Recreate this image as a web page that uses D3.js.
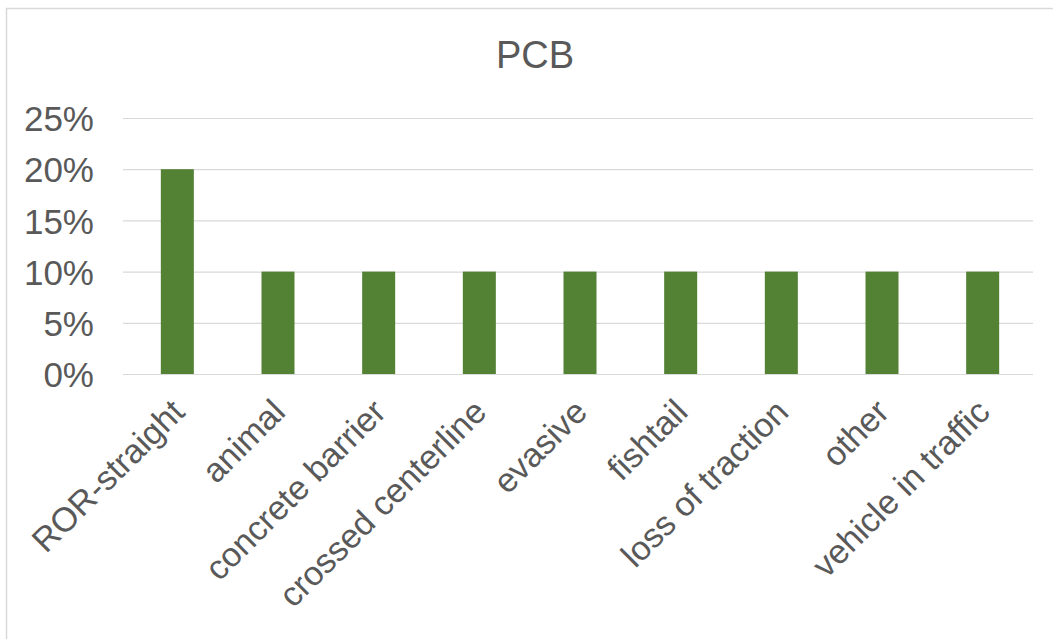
<!DOCTYPE html>
<html><head><meta charset="utf-8">
<script src="https://cdn.jsdelivr.net/npm/d3@7"></script>
<style>
html,body{margin:0;padding:0;background:#fff;}
svg{display:block;font-family:"Liberation Sans",Arial,sans-serif;}
</style></head>
<body>
<svg id="chart" width="1053" height="639"></svg>
<script>
const categories = ["ROR-straight","animal","concrete barrier","crossed centerline","evasive","fishtail","loss of traction","other","vehicle in traffic"];
const values = [0.20,0.10,0.10,0.10,0.10,0.10,0.10,0.10,0.10];
const yTicks = [0,0.05,0.10,0.15,0.20,0.25];
const title = "PCB";

const svg = d3.select("#chart");
const W = 1053, H = 639;
const textColor = "#595959";

// outer border
svg.append("path").attr("d", `M6.5,${H} V8.5 H${W}`).attr("fill","none").attr("stroke","#d9d9d9").attr("stroke-width",1.5);

const x = d3.scaleBand().domain(categories).range([127,1033]).paddingInner(0.672).paddingOuter(0.336);
const y = d3.scaleLinear().domain([0,0.25]).range([374,118]);

// gridlines
const grid = d3.axisLeft(y).tickValues(yTicks).tickSize(-(1033-123)).tickFormat("");
svg.append("g").attr("transform","translate(123,0)").call(grid)
  .call(g=>g.select(".domain").remove())
  .call(g=>g.selectAll("line").attr("stroke","#d9d9d9").attr("stroke-width",1.2));

// y labels
const yAxis = d3.axisLeft(y).tickValues(yTicks).tickSize(0).tickPadding(0).tickFormat(d3.format(".0%"));
svg.append("g").attr("transform","translate(94,0)").call(yAxis)
  .call(g=>g.select(".domain").remove())
  .call(g=>g.selectAll("text").attr("fill",textColor).attr("font-size",35).attr("font-family","Liberation Sans, Arial, sans-serif").attr("dy","0.36em"));

// bars
svg.append("g").selectAll("rect").data(values).join("rect")
  .attr("x",(d,i)=>x(categories[i]))
  .attr("width",x.bandwidth())
  .attr("y",d=>y(d))
  .attr("height",d=>y(0)-y(d))
  .attr("fill","#548235");

// x labels
const xAxis = d3.axisBottom(x).tickSize(0).tickPadding(0);
svg.append("g").attr("transform","translate(0,374)").call(xAxis)
  .call(g=>g.select(".domain").remove())
  .call(g=>g.selectAll("text")
    .attr("fill",textColor).attr("font-size",34).attr("font-family","Liberation Sans, Arial, sans-serif")
    .attr("text-anchor","end").attr("dy",null).attr("y",0)
    .attr("transform","translate(9,40) rotate(-45)"));

// title
svg.append("text").attr("x",535).attr("y",68).attr("text-anchor","middle")
  .attr("fill",textColor).attr("font-size",38).text(title);
</script>
</body></html>
